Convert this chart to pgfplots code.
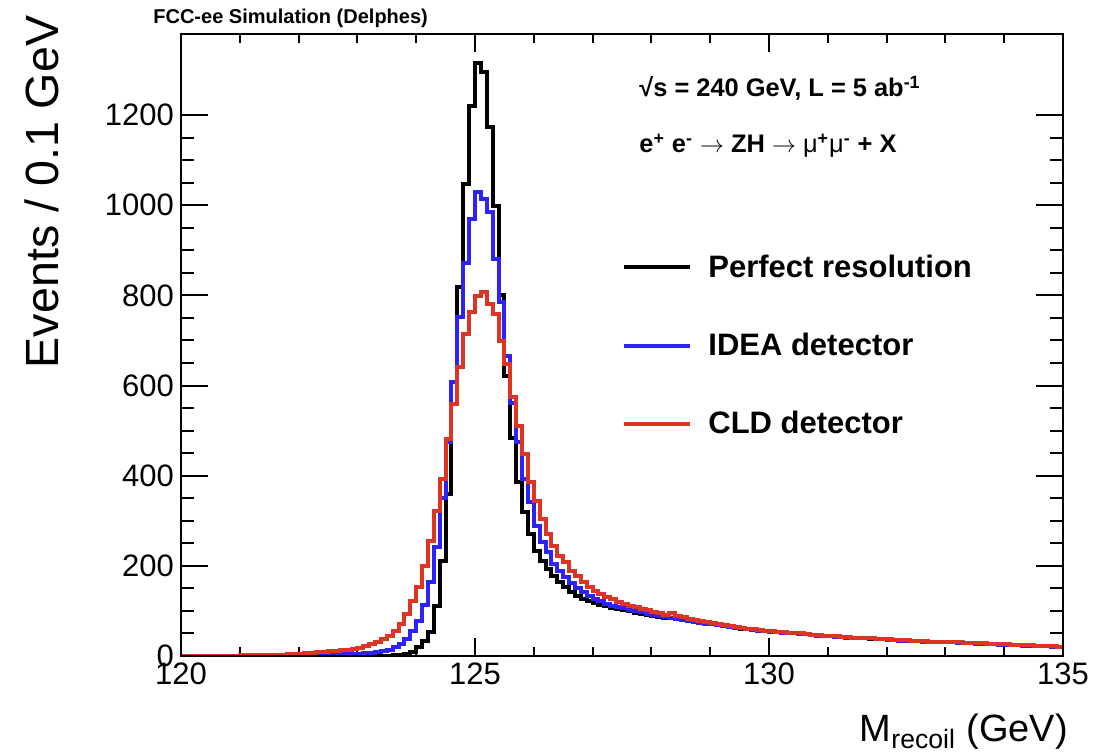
\documentclass[border=0pt]{standalone}
\usepackage{fontspec}
\setmainfont{Liberation Sans}
\usepackage{pgfplots}
\pgfplotsset{compat=1.18}
\definecolor{ideablue}{RGB}{45,35,250}
\definecolor{cldred}{RGB}{222,52,36}
\begin{document}
\begin{tikzpicture}
\useasboundingbox (-90.5pt,-48.5pt) rectangle (460.5pt,328pt);
\pgfplotsset{
  common/.style={
    scale only axis, width=441pt, height=311pt,
    at={(0pt,0pt)}, anchor=south west,
    xmin=120, xmax=135, ymin=0, ymax=1380,
    axis line style={line width=1pt},
    tick style={line width=1pt, black},
    tick align=inside, tick pos=both,
    xticklabel pos=lower, yticklabel pos=left,
    /pgf/number format/assume math mode=true,
    /pgf/number format/1000 sep={},
    ticklabel style={font=\fontsize{15.5}{18}\selectfont},
  }
}
% axis A: data, x ticks, legend, x label
\begin{axis}[common,
  xtick={120,125,130,135}, minor x tick num=4,
  ytick=\empty,
  major tick length=9pt, minor tick length=4.5pt,
  xlabel={M\textsubscript{recoil} (GeV)},
  xlabel style={at={(axis description cs:1.006,-0.137)}, anchor=base east, font=\fontsize{19}{22}\selectfont, inner sep=0pt},
  legend style={draw=none, fill=none, at={(axis description cs:0.5,0.646)}, anchor=north west,
    font=\bfseries\fontsize{15.5}{18}\selectfont, row sep=26.5pt, inner sep=0pt,
    nodes={inner sep=0pt},
    /tikz/every odd column/.append style={column sep=8pt}},
  legend cell align=left,
  legend image code/.code={\draw[#1, line width=2pt] (0pt,0pt) -- (33pt,0pt);},
]
\addplot[const plot, black, line width=2pt] coordinates {
(120.0,0) (120.1,0) (120.2,0) (120.3,0) (120.4,0) (120.5,0) (120.6,0) (120.7,0) (120.8,0) (120.9,0)
(121.0,0) (121.1,0) (121.2,0) (121.3,0) (121.4,0) (121.5,0) (121.6,0) (121.7,0) (121.8,0) (121.9,0)
(122.0,0) (122.1,0) (122.2,0) (122.3,0) (122.4,0) (122.5,0) (122.6,0) (122.7,0) (122.8,0) (122.9,0)
(123.0,0) (123.1,0) (123.2,0) (123.3,0) (123.4,0) (123.5,1) (123.6,2) (123.7,3) (123.8,5) (123.9,9)
(124.0,20) (124.1,33) (124.2,53) (124.3,111) (124.4,211) (124.5,360) (124.6,560) (124.7,818) (124.8,1047) (124.9,1220)
(125.0,1315) (125.1,1295) (125.2,1173) (125.3,998) (125.4,800) (125.5,621) (125.6,484) (125.7,386) (125.8,319) (125.9,270)
(126.0,233) (126.1,211) (126.2,193) (126.3,177) (126.4,164) (126.5,153) (126.6,143) (126.7,134) (126.8,127) (126.9,121)
(127.0,117) (127.1,113) (127.2,110) (127.3,107) (127.4,104) (127.5,101) (127.6,99) (127.7,96) (127.8,94) (127.9,92)
(128.0,89) (128.1,87) (128.2,85) (128.3,84) (128.4,81) (128.5,79) (128.6,77) (128.7,76) (128.8,73) (128.9,71)
(129.0,70) (129.1,68) (129.2,66) (129.3,65) (129.4,63) (129.5,61) (129.6,60) (129.7,58) (129.8,57) (129.9,55)
(130.0,54) (130.1,53) (130.2,52) (130.3,51) (130.4,50) (130.5,49) (130.6,48) (130.7,47) (130.8,46) (130.9,45)
(131.0,44) (131.1,43) (131.2,42) (131.3,42) (131.4,41) (131.5,40) (131.6,39) (131.7,38) (131.8,38) (131.9,37)
(132.0,36) (132.1,35) (132.2,35) (132.3,34) (132.4,34) (132.5,33) (132.6,32) (132.7,32) (132.8,31) (132.9,31)
(133.0,30) (133.1,30) (133.2,29) (133.3,29) (133.4,28) (133.5,28) (133.6,27) (133.7,27) (133.8,26) (133.9,26)
(134.0,25) (134.1,25) (134.2,24) (134.3,24) (134.4,23) (134.5,23) (134.6,22) (134.7,22) (134.8,21) (134.9,21)
(135.0,21)};
\addlegendentry{Perfect resolution}
\addplot[const plot, ideablue, line width=2pt] coordinates {
(120.0,0) (120.1,0) (120.2,0) (120.3,0) (120.4,0) (120.5,0) (120.6,0) (120.7,0) (120.8,0) (120.9,0)
(121.0,0) (121.1,0) (121.2,0) (121.3,0) (121.4,0) (121.5,1) (121.6,1) (121.7,1) (121.8,1) (121.9,1)
(122.0,1) (122.1,1) (122.2,2) (122.3,2) (122.4,2) (122.5,3) (122.6,3) (122.7,4) (122.8,4) (122.9,5)
(123.0,5) (123.1,6) (123.2,7) (123.3,8) (123.4,10) (123.5,14) (123.6,20) (123.7,27) (123.8,38) (123.9,55)
(124.0,77) (124.1,113) (124.2,164) (124.3,242) (124.4,350) (124.5,474) (124.6,607) (124.7,752) (124.8,873) (124.9,969)
(125.0,1029) (125.1,1015) (125.2,984) (125.3,880) (125.4,785) (125.5,665) (125.6,561) (125.7,474) (125.8,392) (125.9,341)
(126.0,288) (126.1,253) (126.2,231) (126.3,204) (126.4,188) (126.5,175) (126.6,161) (126.7,150) (126.8,142) (126.9,134)
(127.0,127) (127.1,121) (127.2,116) (127.3,112) (127.4,109) (127.5,106) (127.6,103) (127.7,100) (127.8,97) (127.9,94)
(128.0,91) (128.1,88) (128.2,86) (128.3,84) (128.4,82) (128.5,80) (128.6,77) (128.7,75) (128.8,74) (128.9,71)
(129.0,70) (129.1,68) (129.2,67) (129.3,64) (129.4,63) (129.5,62) (129.6,59) (129.7,58) (129.8,56) (129.9,55)
(130.0,54) (130.1,53) (130.2,51) (130.3,51) (130.4,50) (130.5,48) (130.6,48) (130.7,47) (130.8,45) (130.9,45)
(131.0,44) (131.1,43) (131.2,42) (131.3,41) (131.4,41) (131.5,40) (131.6,39) (131.7,39) (131.8,37) (131.9,37)
(132.0,36) (132.1,35) (132.2,34) (132.3,34) (132.4,33) (132.5,33) (132.6,32) (132.7,32) (132.8,31) (132.9,30)
(133.0,30) (133.1,30) (133.2,29) (133.3,28) (133.4,28) (133.5,27) (133.6,27) (133.7,27) (133.8,26) (133.9,25)
(134.0,25) (134.1,25) (134.2,24) (134.3,23) (134.4,23) (134.5,23) (134.6,22) (134.7,22) (134.8,21) (134.9,20)
(135.0,20)};
\addlegendentry{IDEA detector}
\addplot[const plot, cldred, line width=2pt] coordinates {
(120.0,1) (120.1,1) (120.2,1) (120.3,1) (120.4,1) (120.5,1) (120.6,1) (120.7,1) (120.8,1) (120.9,1)
(121.0,2) (121.1,2) (121.2,2) (121.3,2) (121.4,2) (121.5,2) (121.6,3) (121.7,3) (121.8,4) (121.9,4)
(122.0,5) (122.1,6) (122.2,7) (122.3,8) (122.4,9) (122.5,10) (122.6,11) (122.7,13) (122.8,14) (122.9,16)
(123.0,18) (123.1,22) (123.2,26) (123.3,31) (123.4,37) (123.5,45) (123.6,56) (123.7,72) (123.8,94) (123.9,123)
(124.0,154) (124.1,200) (124.2,255) (124.3,322) (124.4,392) (124.5,481) (124.6,559) (124.7,641) (124.8,714) (124.9,763)
(125.0,798) (125.1,807) (125.2,780) (125.3,758) (125.4,698) (125.5,647) (125.6,574) (125.7,510) (125.8,448) (125.9,386)
(126.0,344) (126.1,304) (126.2,271) (126.3,244) (126.4,222) (126.5,208) (126.6,189) (126.7,177) (126.8,164) (126.9,153)
(127.0,144) (127.1,137) (127.2,132) (127.3,126) (127.4,120) (127.5,116) (127.6,112) (127.7,108) (127.8,105) (127.9,101)
(128.0,98) (128.1,95) (128.2,92) (128.3,95) (128.4,89) (128.5,86) (128.6,83) (128.7,80) (128.8,78) (128.9,75)
(129.0,73) (129.1,70) (129.2,68) (129.3,66) (129.4,64) (129.5,62) (129.6,61) (129.7,59) (129.8,57) (129.9,56)
(130.0,55) (130.1,53) (130.2,53) (130.3,51) (130.4,50) (130.5,50) (130.6,48) (130.7,47) (130.8,47) (130.9,45)
(131.0,45) (131.1,44) (131.2,43) (131.3,42) (131.4,41) (131.5,41) (131.6,40) (131.7,39) (131.8,38) (131.9,38)
(132.0,37) (132.1,36) (132.2,35) (132.3,35) (132.4,34) (132.5,34) (132.6,33) (132.7,32) (132.8,32) (132.9,31)
(133.0,31) (133.1,30) (133.2,30) (133.3,29) (133.4,28) (133.5,28) (133.6,28) (133.7,27) (133.8,27) (133.9,26)
(134.0,26) (134.1,25) (134.2,25) (134.3,24) (134.4,24) (134.5,23) (134.6,23) (134.7,22) (134.8,22) (134.9,21)
(135.0,21)};
\addlegendentry{CLD detector}
\end{axis}
% axis B: y ticks and y label
\begin{axis}[common,
  xtick=\empty,
  ytick={0,200,400,600,800,1000,1200}, minor y tick num=3,
  major tick length=13.5pt, minor tick length=6.5pt,
  ylabel={Events / 0.1 GeV},
  ylabel style={at={(axis description cs:-0.1576,0.746)}, anchor=center, font=\fontsize{23.3}{28}\selectfont},
]
\end{axis}
\node[anchor=base west, font=\bfseries\fontsize{10}{12}\selectfont, inner sep=0pt] at (-14pt,316pt) {FCC-ee Simulation (Delphes)};
\node[anchor=base west, font=\bfseries\fontsize{12.7}{15}\selectfont, inner sep=0pt] at (229pt,279.5pt) {√s = 240 GeV, L = 5 ab\textsuperscript{-1}};
\node[anchor=base west, font=\bfseries\fontsize{12.7}{15}\selectfont, inner sep=0pt] at (229pt,251.5pt) {e\textsuperscript{+} e\textsuperscript{-} $\rightarrow$ ZH $\rightarrow$ {\mdseries μ}\textsuperscript{+}{\mdseries μ}\textsuperscript{-} + X};
\end{tikzpicture}
\end{document}
